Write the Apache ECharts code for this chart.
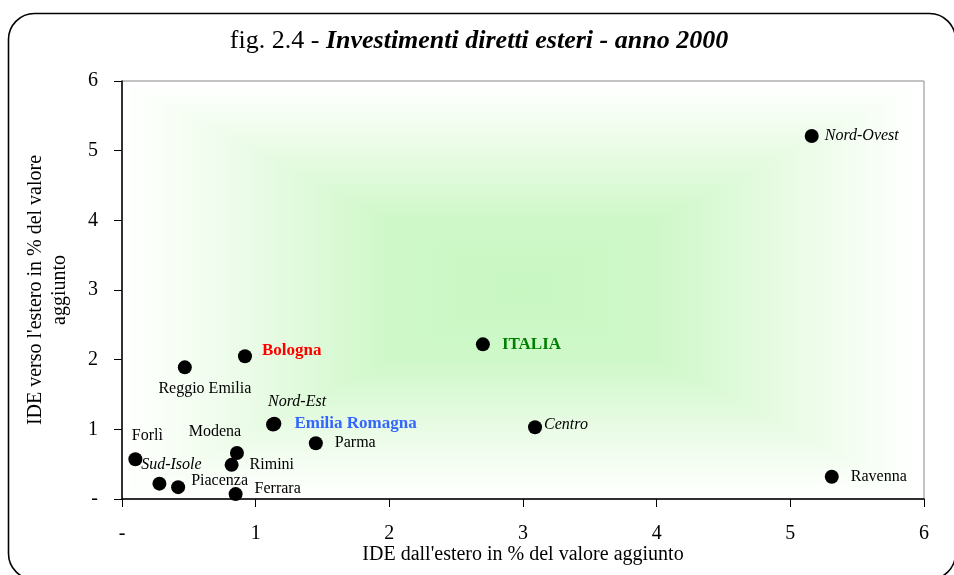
<!DOCTYPE html>
<html lang="it">
  <head>
    <meta charset="UTF-8">
    <title>fig. 2.4 - Investimenti diretti esteri - anno 2000</title>
    <script src="https://cdn.jsdelivr.net/npm/echarts@6/dist/echarts.min.js"></script>
    <style>
      html, body { margin: 0; padding: 0; background: #fff; }
    </style>
  </head>
  <body>
    <div id="main" style="width: 954px;height:575px;"></div>
    <script type="text/javascript">
      // dati
      var names = ['Nord-Ovest', 'ITALIA', 'Bologna', 'Reggio Emilia', 'Nord-Est', 'Emilia Romagna',
        'Parma', 'Centro', 'Ravenna', 'Forlì', 'Modena', 'Rimini', 'Sud-Isole', 'Piacenza', 'Ferrara'];
      var ideDallEstero = [5.16, 2.70, 0.92, 0.47, 1.13, 1.14, 1.45, 3.09, 5.31, 0.10, 0.86, 0.82, 0.28, 0.42, 0.85];
      var ideVersoEstero = [5.21, 2.22, 2.05, 1.89, 1.07, 1.08, 0.80, 1.03, 0.32, 0.57, 0.66, 0.49, 0.22, 0.17, 0.07];
      var tickLabels = ['-', '1', '2', '3', '4', '5', '6'];

      var serif = '"Liberation Serif", "DejaVu Serif", serif';

      // posizione ed aspetto delle etichette
      var labelStyle = {
        'Nord-Ovest': { position: 'right', distance: 6, fontStyle: 'italic' },
        'ITALIA': { position: 'right', distance: 12, fontWeight: 'bold', color: '#008000', fontSize: 17 },
        'Bologna': { position: 'right', distance: 10, offset: [0, -6], fontWeight: 'bold', color: '#ff0000', fontSize: 17 },
        'Reggio Emilia': { position: 'bottom', distance: 6, offset: [20, 0] },
        'Nord-Est': { position: 'top', distance: 8, offset: [24, 0], fontStyle: 'italic' },
        'Emilia Romagna': { position: 'right', distance: 13, fontWeight: 'bold', color: '#3366ff', fontSize: 17 },
        'Parma': { position: 'right', distance: 12 },
        'Centro': { position: 'right', distance: 2, offset: [0, -2], fontStyle: 'italic' },
        'Ravenna': { position: 'right', distance: 12 },
        'Forlì': { position: 'top', distance: 8, offset: [12, 0] },
        'Modena': { position: 'top', distance: 6, offset: [-22, 0] },
        'Rimini': { position: 'right', distance: 11 },
        'Sud-Isole': { position: 'top', distance: 4, offset: [12, 0], fontStyle: 'italic' },
        'Piacenza': { position: 'right', distance: 6, offset: [0, -6] },
        'Ferrara': { position: 'right', distance: 12, offset: [0, -5] }
      };

      var points = names.map(function (n, i) {
        var s = labelStyle[n];
        return {
          name: n,
          value: [ideDallEstero[i], ideVersoEstero[i]],
          label: Object.assign({
            show: true,
            formatter: n,
            color: '#000',
            fontSize: 16,
            fontFamily: serif
          }, s)
        };
      });

      var grid = { left: 122, right: 30, top: 81, bottom: 76 };
      var W = 954, H = 575;
      var gx0 = grid.left, gx1 = W - grid.right, gy0 = grid.top, gy1 = H - grid.bottom;
      var cx = (gx0 + gx1) / 2, cy = (gy0 + gy1) / 2;

      // sfumatura rettangolare dal centro (quattro triangoli)
      function fade(x, y, x2, y2) {
        return {
          type: 'linear', x: x, y: y, x2: x2, y2: y2,
          colorStops: [
            { offset: 0, color: '#ffffff' },
            { offset: 0.08, color: '#fbfffa' },
            { offset: 0.35, color: '#e8fbe4' },
            { offset: 0.66, color: '#cff8c9' },
            { offset: 1, color: '#c8f7c2' }
          ]
        };
      }
      var bg = [
        { type: 'polygon', shape: { points: [[gx0, gy0], [gx1, gy0], [cx, cy]] }, g: [0, 0, 0, 1] },
        { type: 'polygon', shape: { points: [[gx0, gy1], [gx1, gy1], [cx, cy]] }, g: [0, 1, 0, 0] },
        { type: 'polygon', shape: { points: [[gx0, gy0], [gx0, gy1], [cx, cy]] }, g: [0, 0, 1, 0] },
        { type: 'polygon', shape: { points: [[gx1, gy0], [gx1, gy1], [cx, cy]] }, g: [1, 0, 0, 0] }
      ].map(function (e) {
        var f = fade.apply(null, e.g);
        delete e.g;
        e.style = { fill: f, stroke: f, lineWidth: 1.5 };
        e.z = -10;
        e.silent = true;
        return e;
      });

      bg.push({
        type: 'rect', z: 100, silent: true,
        shape: { x: 8.5, y: 13.5, width: 947, height: 566, r: 26 },
        style: { fill: 'none', stroke: '#000', lineWidth: 1.6 }
      });

      function tickFmt(v) { return tickLabels[Math.round(v)]; }

      var myChart = echarts.init(document.getElementById('main'));
      var option = {
        backgroundColor: '#ffffff',
        animation: false,
        title: {
          text: '{n|fig. 2.4 - }{b|Investimenti diretti esteri - anno 2000}',
          left: 474,
          textAlign: 'center',
          top: 23,
          textStyle: {
            rich: {
              n: { fontFamily: serif, fontSize: 26, fontWeight: 'normal', color: '#000' },
              b: { fontFamily: serif, fontSize: 26, fontWeight: 'bold', fontStyle: 'italic', color: '#000' }
            }
          }
        },
        graphic: bg,
        grid: Object.assign({ show: true, borderColor: '#888', borderWidth: 1, backgroundColor: 'transparent' }, grid),
        xAxis: {
          type: 'value', min: 0, max: 6, interval: 1,
          name: "IDE dall'estero in % del valore aggiunto",
          nameLocation: 'middle', nameGap: 46, nameMoveOverlap: false,
          nameTextStyle: { fontFamily: serif, fontSize: 20, color: '#000' },
          axisLine: { lineStyle: { color: '#000', width: 1.5 } },
          axisTick: { show: true, inside: false, length: 8, lineStyle: { color: '#000' } },
          axisLabel: { formatter: tickFmt, margin: 25, fontFamily: serif, fontSize: 20, color: '#000' },
          splitLine: { show: false }
        },
        yAxis: {
          type: 'value', min: 0, max: 6, interval: 1,
          name: "IDE verso l'estero in % del valore\naggiunto",
          nameLocation: 'middle', nameGap: 50, nameRotate: 90, nameMoveOverlap: false,
          nameTextStyle: { fontFamily: serif, fontSize: 20, color: '#000', lineHeight: 24 },
          axisLine: { lineStyle: { color: '#000', width: 1.5 } },
          axisTick: { show: true, inside: false, length: 8, lineStyle: { color: '#000' } },
          axisLabel: { formatter: tickFmt, margin: 24, fontFamily: serif, fontSize: 20, color: '#000' },
          splitLine: { show: false }
        },
        series: [{
          type: 'scatter',
          symbol: 'circle',
          symbolSize: 14,
          itemStyle: { color: '#000', opacity: 1 },
          data: points
        }]
      };
      myChart.setOption(option);
    </script>
  </body>
</html>
